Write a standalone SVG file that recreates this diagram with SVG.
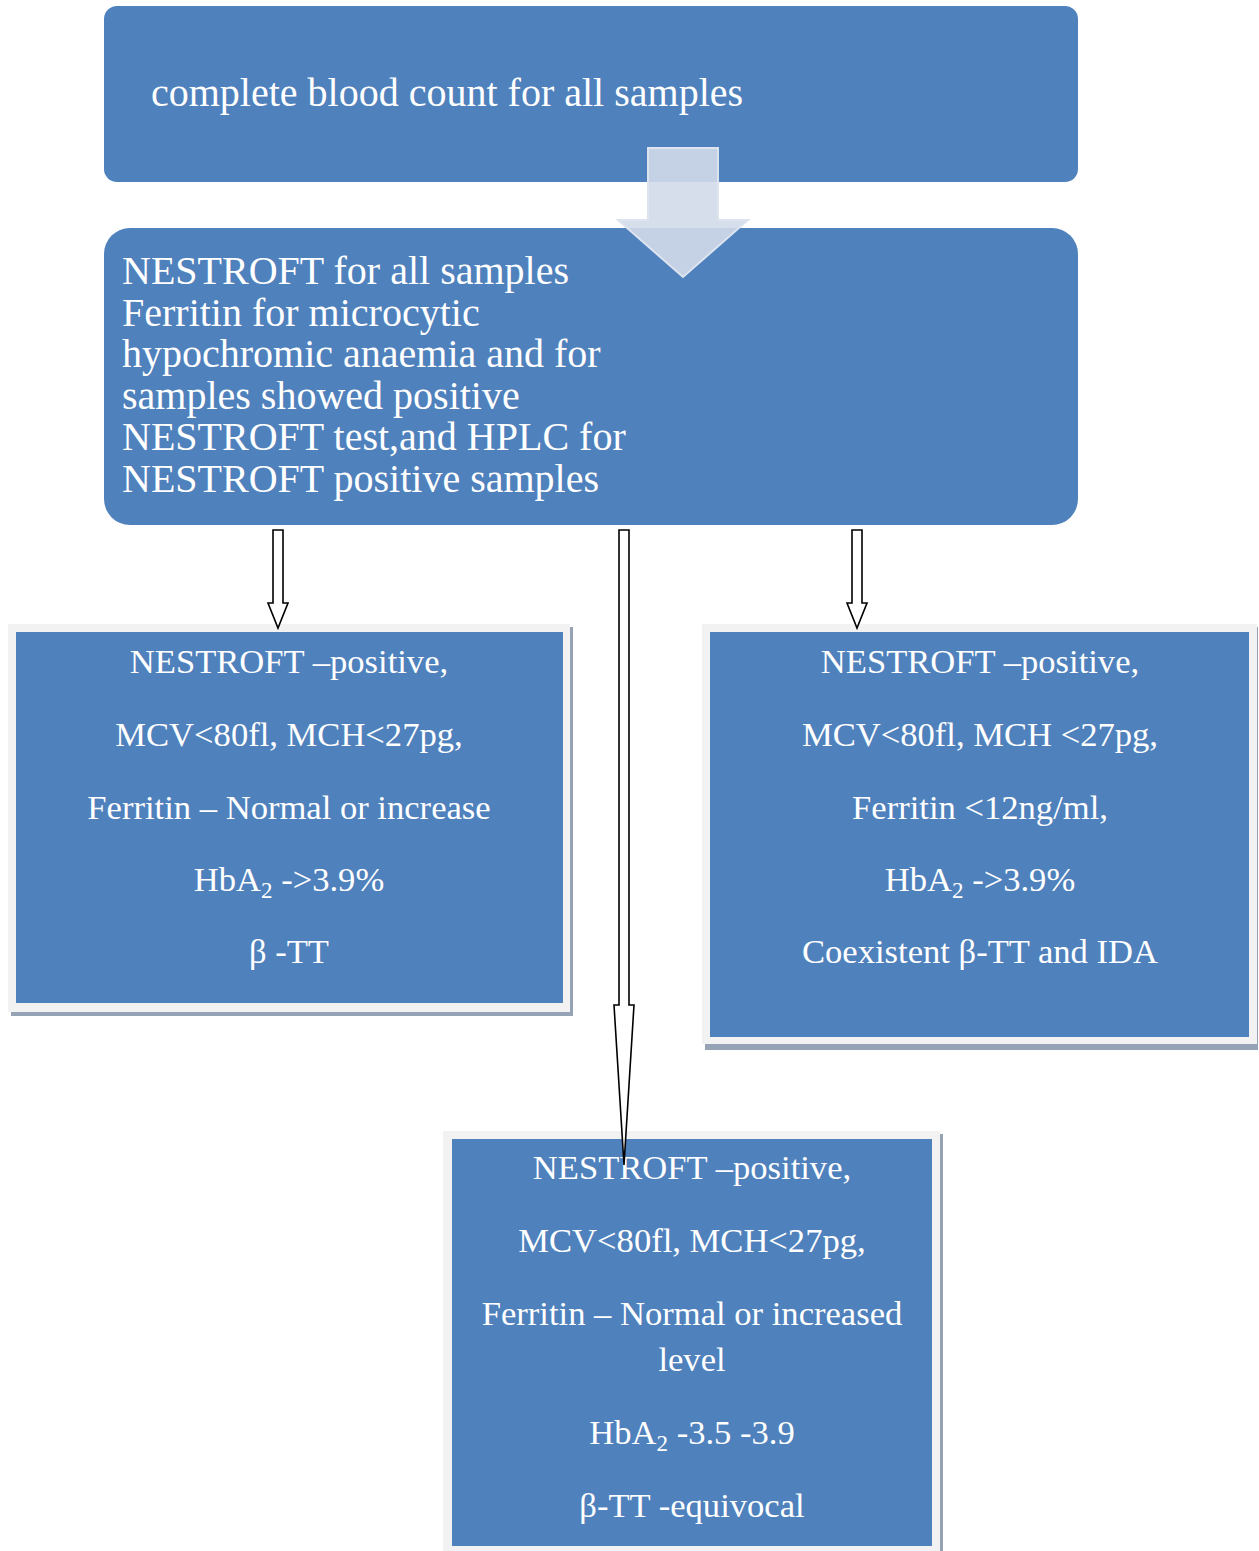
<svg xmlns="http://www.w3.org/2000/svg" width="1259" height="1551" viewBox="0 0 1259 1551">
<style>
.box{fill:#4F81BD}
.frame{fill:#F2F2F2}
.shadow{fill:#95A3B5}
.t{font-family:"Liberation Serif","Times New Roman",serif;fill:#FFFFFF}
.big{font-size:40px}
.sm{font-size:34.6px;text-anchor:middle}
.sub{font-size:23px}
.conn{fill:#FFFFFF;stroke:#000000;stroke-width:1.6;stroke-linejoin:miter}
</style>
<rect width="1259" height="1551" fill="#FFFFFF"/>
<g id="node1">
<rect class="box" x="104" y="6" width="974" height="176" rx="13"/>
<text class="t big" x="151" y="106">complete blood count for all samples</text>
</g>
<g id="node2">
<rect class="box" x="104" y="228" width="974" height="297" rx="26"/>
<text class="t big" x="122" y="284">NESTROFT for all samples</text>
<text class="t big" x="122" y="326">Ferritin for microcytic</text>
<text class="t big" x="122" y="367">hypochromic anaemia and for</text>
<text class="t big" x="122" y="409">samples showed positive</text>
<text class="t big" x="122" y="450">NESTROFT test,and HPLC for</text>
<text class="t big" x="122" y="492">NESTROFT positive samples</text>
</g>
<g id="bigarrow">
<path d="M648,148 L718,148 L718,220 L748,220 L683,277 L618,220 L648,220 Z" fill="#D2D9E9" fill-opacity="0.9" stroke="#DDE4F0" stroke-width="2"/>
</g>
<g id="node3">
<rect class="shadow" x="11" y="627" width="562" height="389"/>
<rect class="frame" x="8" y="624" width="562" height="388"/>
<rect class="box" x="16" y="632" width="547" height="371"/>
<text class="t sm" x="289" y="673">NESTROFT –positive,</text>
<text class="t sm" x="289" y="746">MCV&lt;80fl, MCH&lt;27pg,</text>
<text class="t sm" x="289" y="819">Ferritin – Normal or increase</text>
<text class="t sm" x="289" y="891">HbA<tspan class="sub" dy="7">2</tspan><tspan dy="-7"> -&gt;3.9%</tspan></text>
<text class="t sm" x="289" y="963">β -TT</text>
</g>
<g id="node4">
<rect class="shadow" x="705" y="627" width="553" height="423"/>
<rect class="frame" x="702" y="624" width="555" height="420"/>
<rect class="box" x="710" y="632" width="539" height="405"/>
<text class="t sm" x="980" y="673">NESTROFT –positive,</text>
<text class="t sm" x="980" y="746">MCV&lt;80fl, MCH &lt;27pg,</text>
<text class="t sm" x="980" y="819">Ferritin &lt;12ng/ml,</text>
<text class="t sm" x="980" y="891">HbA<tspan class="sub" dy="7">2</tspan><tspan dy="-7"> -&gt;3.9%</tspan></text>
<text class="t sm" x="980" y="963">Coexistent β-TT and IDA</text>
</g>
<g id="node5">
<rect class="shadow" x="446" y="1134" width="497" height="417"/>
<rect class="frame" x="443" y="1131" width="497" height="420"/>
<rect class="box" x="452" y="1139" width="480" height="407"/>
<text class="t sm" x="692" y="1179">NESTROFT –positive,</text>
<text class="t sm" x="692" y="1252">MCV&lt;80fl, MCH&lt;27pg,</text>
<text class="t sm" x="692" y="1325">Ferritin – Normal or increased</text>
<text class="t sm" x="692" y="1371">level</text>
<text class="t sm" x="692" y="1444">HbA<tspan class="sub" dy="7">2</tspan><tspan dy="-7"> -3.5 -3.9</tspan></text>
<text class="t sm" x="692" y="1517">β-TT -equivocal</text>
</g>
<g id="connectors">
<path class="conn" d="M273,530 L283,530 L283,603 L288,603 L278,628 L268,603 L273,603 Z"/>
<path class="conn" d="M852,530 L862,530 L862,603 L867,603 L857,628 L847,603 L852,603 Z"/>
<path class="conn" d="M619,530 L629,530 L629,1005 L634,1005 L624,1165 L614,1005 L619,1005 Z"/>
</g>
</svg>
